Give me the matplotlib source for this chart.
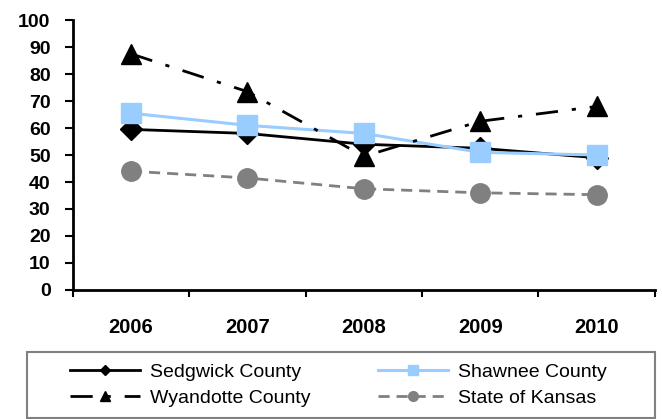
import matplotlib.pyplot as plt
from matplotlib.patches import Rectangle
from matplotlib.ticker import FixedLocator

years = ['2006', '2007', '2008', '2009', '2010']
sedgwick = [59.5, 58, 54, 52.5, 49]
shawnee = [65.5, 61, 58, 51, 50]
wyandotte = [87.5, 73.5, 49.5, 62.5, 68]
kansas = [44, 41.5, 37.5, 36, 35.3]

plt.rcParams['font.family'] = ['Liberation Sans', 'DejaVu Sans']

fig = plt.figure(figsize=(6.62, 4.19), dpi=100)
ax = fig.add_axes([0.110, 0.308, 0.879, 0.644])

x = range(len(years))
l1, = ax.plot(x, sedgwick, color='black', lw=2, marker='D', ms=11,
              label='Sedgwick County')
l2, = ax.plot(x, shawnee, color='#99CCFF', lw=2.2, marker='s', ms=14,
              label='Shawnee County')
l3, = ax.plot(x, wyandotte, color='black', lw=2, marker='^', ms=14,
              dashes=(8, 5, 1.5, 5), label='Wyandotte County')
l4, = ax.plot(x, kansas, color='#808080', lw=2, marker='o', ms=14,
              dashes=(4, 2.5), label='State of Kansas')

ax.set_xlim(-0.5, len(years) - 0.5)
ax.set_ylim(0, 100)
ax.set_yticks(range(0, 101, 10))
ax.set_xticks(list(x))
ax.set_xticklabels(years)
ax.xaxis.set_minor_locator(FixedLocator([i - 0.5 for i in range(len(years) + 1)]))
ax.tick_params(axis='x', which='major', length=0, pad=20)
ax.tick_params(axis='x', which='minor', length=5, width=1.5)
ax.tick_params(axis='y', length=6, width=1.5, pad=10)
for lab in ax.get_xticklabels():
    lab.set_fontsize(14.5)
    lab.set_fontweight('bold')
for lab in ax.get_yticklabels():
    lab.set_fontsize(14)
    lab.set_fontweight('bold')

ax.spines['top'].set_visible(False)
ax.spines['right'].set_visible(False)
ax.spines['left'].set_linewidth(2)
ax.spines['bottom'].set_linewidth(2)

# legend box
fig.patches.append(Rectangle((0.041, 0.003), 0.948, 0.157, transform=fig.transFigure,
                             fill=False, edgecolor='#808080', lw=1.5))
fig.legend([l1, l3, l2, l4],
           ['Sedgwick County', 'Wyandotte County', 'Shawnee County', 'State of Kansas'],
           ncol=2, loc='center left', bbox_to_anchor=(0.106, 0.081),
           fontsize=14, markerscale=0.5, handlelength=3.6, handletextpad=0.5,
           columnspacing=3.5, labelspacing=0.45, frameon=False,
           borderpad=0, borderaxespad=0)

fig.savefig('out.png', dpi=100)
